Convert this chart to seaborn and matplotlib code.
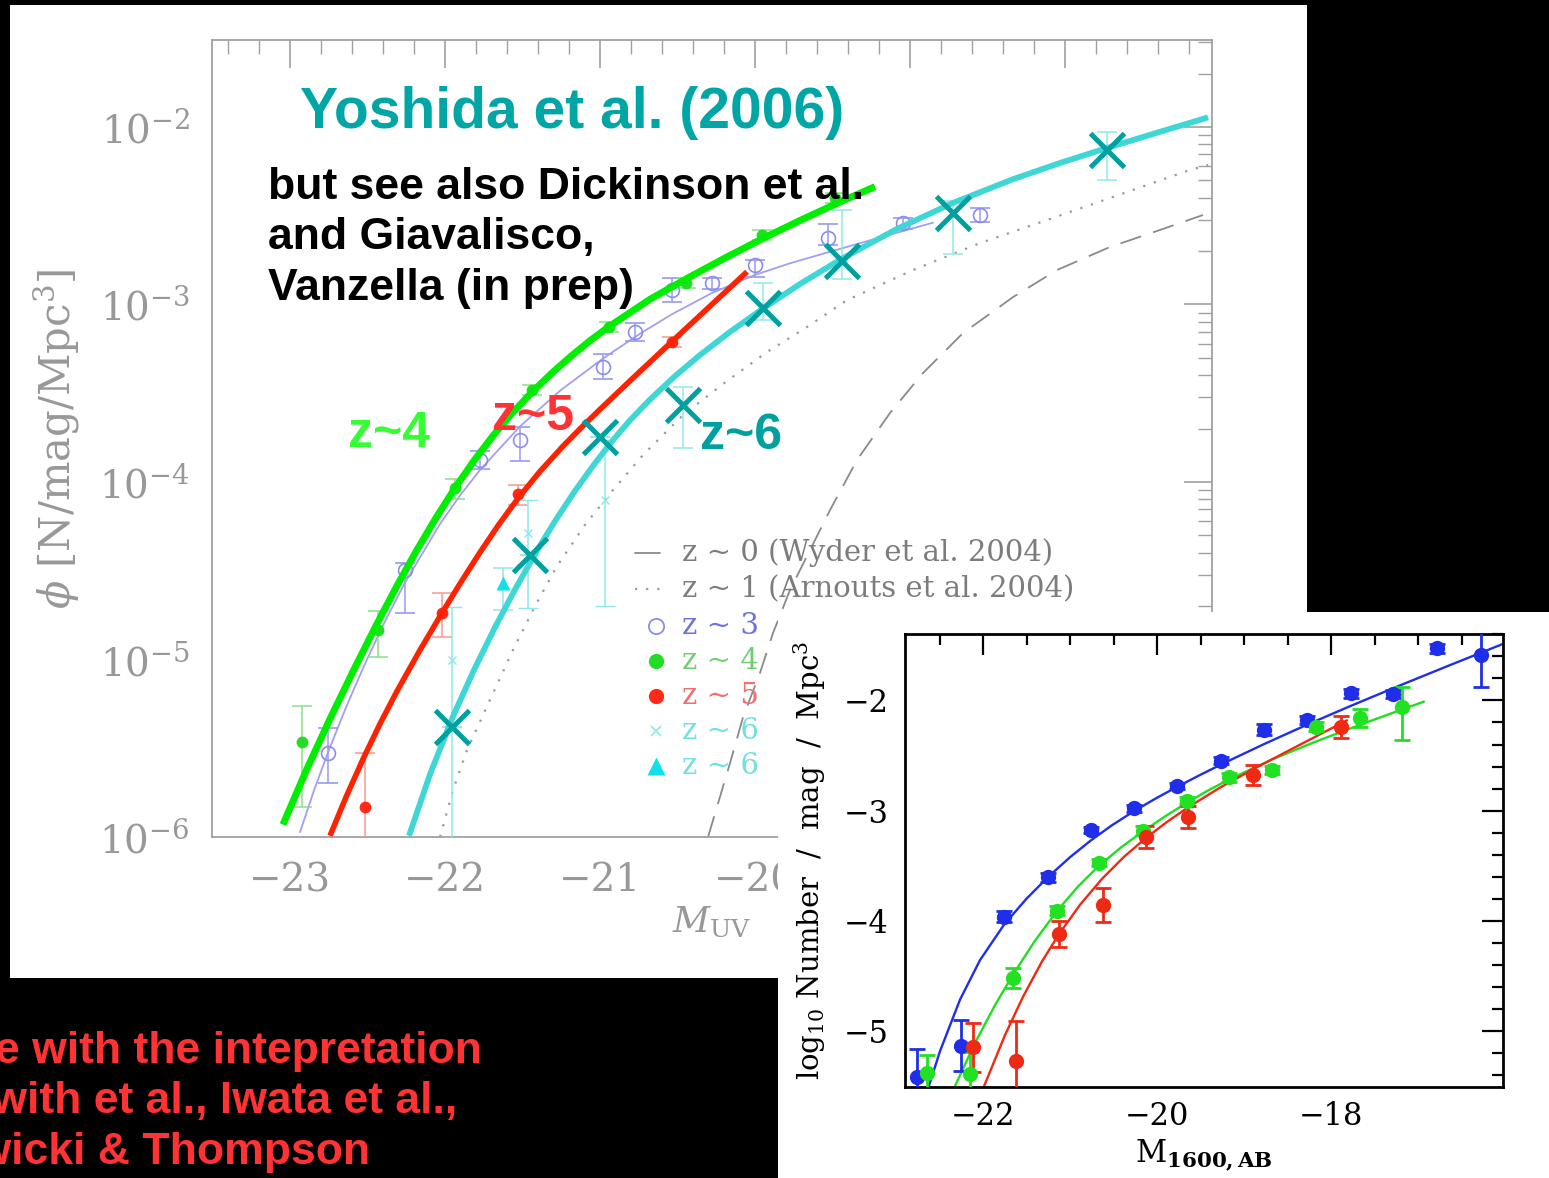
import numpy as np
import matplotlib
matplotlib.use("Agg")
import matplotlib.pyplot as plt
import seaborn as sns
from matplotlib.patches import Rectangle
from matplotlib.ticker import MultipleLocator, FixedLocator, LogLocator, NullFormatter

W, H = 1549, 1178

# ---------------- main panel: M_UV and log10(phi) ----------------
z3_mag = [-22.753, -22.258, -21.774, -21.516, -20.981, -20.774, -20.537, -20.279, -20.0, -19.527, -19.043, -18.548]
z3_lphi = [-5.525, -4.496, -3.876, -3.763, -3.35, -3.153, -2.918, -2.88, -2.777, -2.627, -2.543, -2.496]
z3_elo = [0.17, 0.24, 0.05, 0.12, 0.07, 0.05, 0.07, 0.03, 0.07, 0.04, 0.03, 0.04]
z3_ehi = [0.14, 0.04, 0.05, 0.07, 0.07, 0.05, 0.07, 0.03, 0.03, 0.08, 0.03, 0.04]

z4_mag = [-22.925, -22.432, -21.935, -21.439, -20.942, -20.445, -19.955, -19.484]
z4_lphi = [-5.463, -4.834, -4.034, -3.482, -3.127, -2.879, -2.608, -2.40]
z4_elo = [0.37, 0.15, 0.06, 0.03, 0.03, 0.03, 0.03, 0.03]
z4_ehi = [0.20, 0.11, 0.05, 0.03, 0.03, 0.03, 0.03, 0.03]

z5_mag = [-22.516, -22.021, -21.529, -20.535]
z5_lphi = [-5.829, -4.736, -4.068, -3.211]
z5_elo = [0.5, 0.14, 0.06, 0.03]
z5_ehi = [0.30, 0.11, 0.05, 0.03]

z6x_mag = [-21.957, -21.462, -20.968]
z6x_lphi = [-5.003, -4.289, -4.101]
z6x_elo = [1.0, 0.42, 0.6]
z6x_ehi = [0.30, 0.19, 0.34]

z6t_mag = [-21.624]
z6t_lphi = [-4.571]
z6t_elo = [0.15]
z6t_ehi = [0.085]

yos_mag = [-21.955, -21.452, -21.0, -20.465, -19.948, -19.439, -18.723, -17.729]
yos_lphi = [-5.38, -4.411, -3.746, -3.566, -3.02, -2.755, -2.485, -2.13]
yos_elo = [0.0, 0.0, 0.0, 0.24, 0.07, 0.10, 0.23, 0.17]
yos_ehi = [0.0, 0.0, 0.0, 0.10, 0.14, 0.29, 0.07, 0.10]

# fitted curves
green_mag = [-23.0452, -22.8968, -22.7419, -22.5871, -22.4323, -22.3097, -22.1871, -22.0581, -21.9355,
             -21.8129, -21.6903, -21.5677, -21.4387, -21.3161, -21.1935, -21.0645, -20.9419, -20.6774,
             -20.4452, -20.1935, -19.9484, -19.7097, -19.4516, -19.2258]
green_lphi = [-5.9301, -5.6287, -5.3346, -5.0563, -4.7882, -4.5848, -4.3921, -4.2023, -4.0338,
              -3.8800, -3.7397, -3.6130, -3.4935, -3.3910, -3.2963, -3.2039, -3.1245, -2.9707,
              -2.8563, -2.7380, -2.6276, -2.5268, -2.4225, -2.3363]
red_mag = [-22.7419, -22.6387, -22.5290, -22.4194, -22.3097, -22.1613, -22.0194, -21.8968, -21.7742,
           -21.6516, -21.5290, -21.3871, -21.2387, -21.1226, -21.0, -20.7677, -20.5355, -20.2903, -20.0516]
red_lphi = [-5.9932, -5.7758, -5.5617, -5.3628, -5.1786, -4.9470, -4.7380, -4.5639, -4.3966,
            -4.2383, -4.0924, -3.9403, -3.7983, -3.6952, -3.5910, -3.3983, -3.2085, -3.0096, -2.8158]
cyan_mag = [-22.2323, -22.0968, -21.9484, -21.8129, -21.6774, -21.5419, -21.4065, -21.2839, -21.1613,
            -21.0387, -20.9161, -20.8065, -20.6774, -20.5161, -20.3548, -20.1613, -19.9484, -19.7097,
            -19.4387, -19.0839, -18.7226, -18.3355, -18.0323, -17.7290, -17.3871, -17.0774]
cyan_lphi = [-5.9932, -5.6473, -5.3206, -5.0592, -4.8186, -4.5955, -4.3865, -4.2118, -4.0501,
             -3.9014, -3.7634, -3.6524, -3.5352, -3.4034, -3.2845, -3.1544, -3.0225, -2.8845,
             -2.7414, -2.5741, -2.4276, -2.2941, -2.2028, -2.1183, -2.0270, -1.9459]
z3fit_mag = [-22.9355, -22.8452, -22.7548, -22.6387, -22.5161, -22.3871, -22.2581, -22.0323, -21.9032,
             -21.7742, -21.5161, -21.2581, -20.9806, -20.7419, -20.5355, -20.2774, -20.0, -19.7742,
             -19.5355, -19.1935, -18.8516]
z3fit_lphi = [-5.9730, -5.7380, -5.5234, -5.2699, -5.0237, -4.7854, -4.5673, -4.2366, -4.0761,
              -3.9324, -3.6868, -3.4862, -3.3042, -3.1645, -3.0546, -2.9352, -2.8332, -2.7679,
              -2.7076, -2.6225, -2.5390]
z1_mag = [-22.032, -21.948, -21.858, -21.710, -21.561, -21.419, -21.277, -21.097, -20.916, -20.723,
          -20.465, -20.181, -19.923, -19.665, -19.406, -18.981, -18.548, -18.116, -17.690, -17.194, -17.077]
z1_lphi = [-6.0, -5.735, -5.510, -5.228, -4.946, -4.699, -4.473, -4.242, -4.045, -3.848,
           -3.623, -3.431, -3.268, -3.127, -2.975, -2.806, -2.654, -2.524, -2.394, -2.242, -2.214]
z0_mag = [-20.303, -20.161, -20.077, -19.968, -19.884, -19.774, -19.645, -19.516, -19.342, -19.129,
          -18.916, -18.658, -18.335, -18.052, -17.710, -17.387, -17.110]
z0_lphi = [-6.0, -5.583, -5.324, -5.076, -4.851, -4.608, -4.383, -4.158, -3.876, -3.611,
           -3.386, -3.161, -2.958, -2.806, -2.676, -2.580, -2.496]

legend_labels = ["z ~ 0 (Wyder et al. 2004)", "z ~ 1 (Arnouts et al. 2004)", "z ~ 3", "z ~ 4",
                 "z ~ 5", "z ~ 6", "z ~ 6"]
main_yticks = [1e-6, 1e-5, 1e-4, 1e-3, 1e-2]
main_yticklabels = [r"$10^{-6}$", r"$10^{-5}$", r"$10^{-4}$", r"$10^{-3}$", r"$10^{-2}$"]

# ---------------- inset: M_1600 and log10 number density ----------------
in_blue_mag = [-22.755, -22.256, -21.759, -21.256, -20.762, -20.264, -19.774, -19.268, -18.767, -18.279,
               -17.774, -17.284, -16.785, -16.279]
in_blue_y = [-5.412, -5.131, -3.961, -3.604, -3.175, -2.978, -2.776, -2.547, -2.268, -2.178,
             -1.936, -1.942, -1.528, -1.588]
in_blue_err = [0.25, 0.23, 0.05, 0.04, 0.03, 0.03, 0.03, 0.03, 0.05, 0.04, 0.04, 0.04, 0.04, 0.29]

in_green_mag = [-22.64, -22.149, -21.659, -21.153, -20.667, -20.157, -19.659, -19.169, -18.682, -18.172,
                -17.667, -17.18]
in_green_y = [-5.381, -5.387, -4.52, -3.907, -3.471, -3.181, -2.909, -2.697, -2.631, -2.238, -2.162, -2.063]
in_green_elo = [0.2, 0.2, 0.09, 0.04, 0.03, 0.04, 0.03, 0.04, 0.04, 0.04, 0.08, 0.30]
in_green_ehi = [0.165, 0.2, 0.09, 0.04, 0.03, 0.04, 0.03, 0.04, 0.04, 0.04, 0.08, 0.18]

in_red_mag = [-22.111, -21.621, -21.126, -20.624, -20.13, -19.64, -18.893, -17.889]
in_red_y = [-5.145, -5.269, -4.118, -3.855, -3.241, -3.06, -2.676, -2.238]
in_red_err = [0.22, 0.365, 0.12, 0.15, 0.1, 0.1, 0.09, 0.1]

in_blue_fit_mag = [-22.6552, -22.4943, -22.2644, -22.0345, -21.7586, -21.5057, -21.2529, -21.0, -20.7586,
                   -20.5172, -20.2644, -20.0115, -19.7701, -19.5172, -19.2644, -18.7701, -18.2759, -17.7816,
                   -17.2069, -16.6322, -16.0230]
in_blue_fit_y = [-5.5775, -5.1795, -4.7126, -4.3545, -4.0335, -3.8024, -3.6011, -3.4216, -3.2684,
                 -3.1315, -3.0036, -2.8876, -2.7842, -2.6809, -2.5811, -2.3962, -2.2203, -2.0526,
                 -1.8640, -1.6800, -1.4878]
in_green_fit_mag = [-22.3333, -22.0920, -21.8621, -21.6552, -21.4023, -21.1494, -20.9080, -20.6667, -20.4138,
                    -20.1609, -19.9080, -19.6552, -19.4138, -19.1724, -18.6782, -18.1724, -17.6667, -17.2069,
                    -16.9310]
in_green_fit_y = [-5.5150, -5.1052, -4.7625, -4.4850, -4.1786, -3.9093, -3.6872, -3.4986, -3.3327,
                  -3.1868, -3.0517, -2.9266, -2.8169, -2.7171, -2.5358, -2.3726, -2.2212, -2.0888, -2.0109]
in_red_fit_mag = [-22.0, -21.7471, -21.5402, -21.3218, -21.1264, -20.8851, -20.6322, -20.3793, -20.1264,
                  -19.8851, -19.6437, -19.2759, -18.8966, -18.4713, -18.1264, -17.8161]
in_red_fit_y = [-5.5204, -5.0335, -4.6863, -4.3663, -4.1179, -3.8531, -3.6174, -3.4180, -3.2466,
                -3.1015, -2.9701, -2.7906, -2.6247, -2.4488, -2.3073, -2.1804]


def pw(a):
    return np.power(10.0, np.asarray(a, dtype=float))


def log_errorbar(axis, mag, lphi, elo, ehi, **kw):
    lphi = np.asarray(lphi, dtype=float)
    y = pw(lphi)
    yerr = [y - pw(lphi - np.asarray(elo)), pw(lphi + np.asarray(ehi)) - y]
    axis.errorbar(mag, y, yerr=yerr, **kw)


sns.set_style("white")
plt.rcParams["font.family"] = ["DejaVu Serif"]
plt.rcParams["mathtext.fontset"] = "dejavuserif"

fig = plt.figure(figsize=(W / 100, H / 100), dpi=100, facecolor="black")


def px_axes(z):
    a = fig.add_axes([0, 0, 1, 1], zorder=z)
    a.set_xlim(0, W)
    a.set_ylim(H, 0)
    a.axis("off")
    return a


# slide background
bg = px_axes(0)
bg.add_patch(Rectangle((10, 5), 1297, 973, color="white", lw=0))
red_txt = dict(color="#ff3333", fontsize=32, fontweight="bold", ha="right", va="baseline",
               family=["Liberation Sans", "DejaVu Sans"])
bg.text(482, 1063, "e with the intepretation", **red_txt)
bg.text(457, 1113, "Beckwith et al., Iwata et al.,", **red_txt)
bg.text(370, 1164, "Sawicki & Thompson", **red_txt)

# ---------------- main panel ----------------
ax = fig.add_axes([212 / W, 1 - 837 / H, 1000 / W, 797 / H], zorder=1)
ax.set_facecolor("white")
ax.set_yscale("log")
ax.set_xlim(-23.503, -17.052)
ax.set_ylim(1e-6, 10 ** -1.51)

# faint published points
log_errorbar(ax, z3_mag, z3_lphi, z3_elo, z3_ehi, fmt="o", ms=10, mfc="none", mec="#8c8cf0", mew=1.2,
             ecolor="#9a9af0", elinewidth=1.1, capsize=7, capthick=1.1, zorder=3)
log_errorbar(ax, z4_mag, z4_lphi, z4_elo, z4_ehi, fmt="o", ms=8.5, color="#22dd22", mec="none",
             ecolor="#88e088", elinewidth=1.1, capsize=7, capthick=1.1, zorder=3)
log_errorbar(ax, z5_mag, z5_lphi, z5_elo, z5_ehi, fmt="o", ms=8.5, color="#ff2a1a", mec="none",
             ecolor="#f59a90", elinewidth=1.1, capsize=7, capthick=1.1, zorder=3)
log_errorbar(ax, z6x_mag, z6x_lphi, z6x_elo, z6x_ehi, fmt="x", ms=6, color="#8fe8e8", mew=1.0,
             ecolor="#8fe8e8", elinewidth=1.1, capsize=7, capthick=1.1, zorder=3)
log_errorbar(ax, z6t_mag, z6t_lphi, z6t_elo, z6t_ehi, fmt="^", ms=10, color="#10e0e8", mec="none",
             ecolor="#8fe8e8", elinewidth=1.1, capsize=7, capthick=1.1, zorder=3)
log_errorbar(ax, yos_mag, yos_lphi, yos_elo, yos_ehi, fmt="none",
             ecolor="#8fe8e8", elinewidth=1.1, capsize=7, capthick=1.1, zorder=3)

# local-universe reference curves and thin z~3 fit
sns.lineplot(x=z0_mag, y=pw(z0_lphi), ax=ax, color="#8a8a8a", lw=1.3, sort=False, estimator=None, zorder=2)
ax.lines[-1].set_dashes((12, 7))
sns.lineplot(x=z1_mag, y=pw(z1_lphi), ax=ax, color="#9a9a9a", lw=1.6, sort=False, estimator=None, zorder=2)
ax.lines[-1].set_dashes((1, 4))
sns.lineplot(x=z3fit_mag, y=pw(z3fit_lphi), ax=ax, color="#a0a0f2", lw=1.3, sort=False, estimator=None,
             zorder=2)

# thick fitted curves
for mag, lphi, col, lw in [(cyan_mag, cyan_lphi, "#3fd6d6", 4.2),
                           (red_mag, red_lphi, "#ff2200", 4.0),
                           (green_mag, green_lphi, "#00ee00", 5.0)]:
    sns.lineplot(x=mag, y=pw(lphi), ax=ax, color=col, lw=lw, sort=False, estimator=None, zorder=5)
    ax.lines[-1].set_solid_capstyle("butt")
    ax.lines[-1].set_solid_joinstyle("round")

ax.plot(yos_mag, pw(yos_lphi), ls="none", marker="x", ms=24, mew=3.6, color="#00a0a0", zorder=6)

ax.xaxis.set_major_locator(FixedLocator([-23, -22, -21, -20, -19, -18]))
ax.xaxis.set_minor_locator(MultipleLocator(0.2))
ax.set_yticks(main_yticks)
ax.set_yticklabels(main_yticklabels)
ax.yaxis.set_minor_locator(LogLocator(base=10, subs=np.arange(2, 10)))
ax.yaxis.set_minor_formatter(NullFormatter())
ax.tick_params(which="both", direction="in", top=True, right=True, color="#a0a0a0",
               labelcolor="#989898", labelsize=28)
ax.tick_params(which="major", length=20, width=1.2)
ax.tick_params(which="minor", length=10, width=1.0)
ax.tick_params(axis="x", pad=18)
ax.tick_params(axis="y", pad=16)
for s in ax.spines.values():
    s.set_color("#a0a0a0")
    s.set_linewidth(1.3)
ax.set_xlabel(r"$M_{\rm UV}$", fontsize=26, color="#989898")
ax.xaxis.set_label_coords(0.5, -0.085)
ax.set_ylabel(r"$\phi$ [N/mag/Mpc$^3$]", fontsize=30, color="#989898")
ax.yaxis.set_label_coords(-0.13, 0.5)


# legend drawn in the panel
def axc(px, py):
    return (px - 212) / 1000, (837 - py) / 797


leg_y = [553, 589, 626, 661, 696, 731, 766]
leg_col = ["#7c7c7c", "#7c7c7c", "#7070e0", "#70d070", "#f07070", "#70e0e0", "#70e0e0"]
for i, (lab, py, c) in enumerate(zip(legend_labels, leg_y, leg_col)):
    tx, ty = axc(682, py)
    ax.text(tx, ty, lab, transform=ax.transAxes, fontsize=21, color=c, va="center", ha="left", zorder=4)
    mx, my = axc(656, py)
    if i == 0:
        x0, _ = axc(635, py)
        x1, _ = axc(660, py)
        ax.plot([x0, x1], [my, my], transform=ax.transAxes, color="#8a8a8a", lw=1.3)
    elif i == 1:
        x0, _ = axc(635, py)
        x1, _ = axc(662, py)
        ax.plot([x0, x1], [my, my], transform=ax.transAxes, color="#9a9a9a", lw=1.6, dashes=(1, 4))
    elif i == 2:
        ax.plot([mx], [my], transform=ax.transAxes, marker="o", ms=11, mfc="none", mec="#8c8cf0", mew=1.3)
    elif i == 3:
        ax.plot([mx], [my], transform=ax.transAxes, marker="o", ms=11, color="#22dd22", mec="none")
    elif i == 4:
        ax.plot([mx], [my], transform=ax.transAxes, marker="o", ms=11, color="#ff2a1a", mec="none")
    elif i == 5:
        ax.plot([mx], [my], transform=ax.transAxes, marker="x", ms=7, color="#8fe8e8", mew=1.2)
    else:
        ax.plot([mx], [my], transform=ax.transAxes, marker="^", ms=13, color="#10e0e8", mec="none")

# slide annotations over the panel
ann = px_axes(2)
sans_b = dict(fontweight="bold", family=["Liberation Sans", "DejaVu Sans"], va="baseline", ha="left")
ann.text(300, 128, "Yoshida et al. (2006)", color="#00a5a5", fontsize=41, **sans_b)
ann.text(268, 199, "but see also Dickinson et al.", color="black", fontsize=32, **sans_b)
ann.text(268, 249, "and Giavalisco,", color="black", fontsize=32, **sans_b)
ann.text(268, 300, "Vanzella (in prep)", color="black", fontsize=32, **sans_b)
ann.text(348, 447, "z~4", color="#33ff33", fontsize=36, **sans_b)
ann.text(492, 430, "z~5", color="#ff3333", fontsize=36, **sans_b)
ann.text(700, 449, "z~6", color="#00a0a0", fontsize=36, **sans_b)

# white area behind the inset
cover = px_axes(3)
cover.add_patch(Rectangle((778, 612), W - 778, H - 612, color="white", lw=0))

# ---------------- inset ----------------
ai = fig.add_axes([905 / W, 1 - 1087 / H, 598 / W, 453 / H], zorder=4)
ai.set_facecolor("white")
ai.set_xlim(-22.897, -16.023)
ai.set_ylim(-5.505, -1.398)

for mag, y, col in [(in_blue_fit_mag, in_blue_fit_y, "#1f2ee8"),
                    (in_green_fit_mag, in_green_fit_y, "#22dd22"),
                    (in_red_fit_mag, in_red_fit_y, "#ee2a14")]:
    sns.lineplot(x=mag, y=y, ax=ai, color=col, lw=1.7, sort=False, estimator=None, zorder=2)

pt = dict(fmt="o", ms=11, mec="none", elinewidth=2.0, capsize=6, capthick=2.0, zorder=3)
ai.errorbar(in_blue_mag, in_blue_y, yerr=in_blue_err, color="#1f2ee8", **pt)
ai.errorbar(in_green_mag, in_green_y, yerr=[in_green_elo, in_green_ehi], color="#22e022", **pt)
ai.errorbar(in_red_mag, in_red_y, yerr=in_red_err, color="#ee2a14", **pt)

ai.xaxis.set_major_locator(MultipleLocator(2))
ai.xaxis.set_minor_locator(MultipleLocator(0.5))
ai.yaxis.set_major_locator(MultipleLocator(1))
ai.yaxis.set_minor_locator(MultipleLocator(0.2))
ai.tick_params(which="both", direction="in", top=True, right=True, color="black", width=1.6,
               labelcolor="black", labelsize=22)
ai.tick_params(which="major", length=15)
ai.tick_params(which="minor", length=8)
ai.tick_params(axis="x", pad=10)
ai.tick_params(axis="y", pad=12)
for s in ai.spines.values():
    s.set_color("black")
    s.set_linewidth(2.0)
ai.set_ylabel(r"log$_{10}$ Number  /  mag  /  Mpc$^3$", fontsize=21, color="black")
ai.yaxis.set_label_coords(-0.129, 0.5)
ai.set_xlabel(r"M$_{\mathbf{1600,AB}}$", fontsize=22, color="black")
ai.xaxis.set_label_coords(0.5, -0.112)

fig.savefig("out.png", dpi=100, facecolor="black")
